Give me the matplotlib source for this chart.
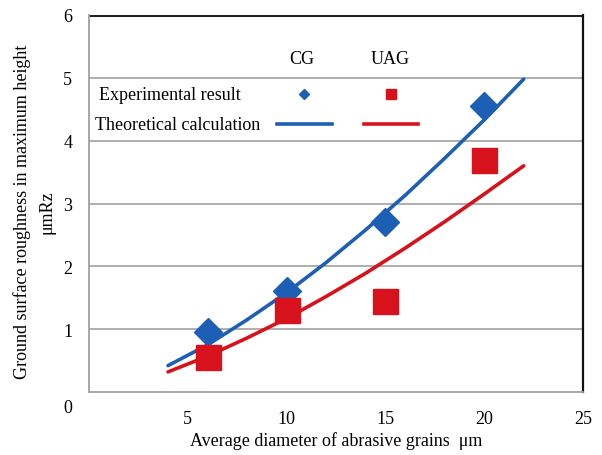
import matplotlib
matplotlib.use("Agg")
import matplotlib.pyplot as plt
from matplotlib.lines import Line2D
from matplotlib.transforms import ScaledTranslation

plt.rcParams['font.family'] = ['Liberation Serif', 'DejaVu Serif']

# Experimental results
grain_x = [6, 10, 15, 20]
cg_exp = [0.95, 1.60, 2.70, 4.55]
uag_exp = [0.55, 1.30, 1.45, 3.70]

# Theoretical calculation curves
curve_x = [4, 6, 8, 10, 12, 14, 16, 18, 20, 22]
cg_theory = [0.42, 0.75, 1.15, 1.58, 2.06, 2.58, 3.13, 3.72, 4.33, 4.98]
uag_theory = [0.32, 0.57, 0.86, 1.17, 1.52, 1.89, 2.29, 2.71, 3.15, 3.60]

xticks = [5, 10, 15, 20, 25]
yticks = [0, 1, 2, 3, 4, 5, 6]

blue = '#1d5fb4'
red = '#d8121c'

fig = plt.figure(figsize=(6.02, 4.56), dpi=100)
ax = fig.add_axes([89/602, 1-393/456, (583-89)/602, (393-16)/456])

ax.set_xlim(0, 25)
ax.set_ylim(0, 6)
ax.set_xticks(xticks)
ax.set_yticks(yticks)
ax.tick_params(length=0, labelsize=13, pad=12)
ax.tick_params(axis='x', pad=13)

# the "0" label sits lower, at the corner
lab0 = ax.get_yticklabels()[0]
lab0.set_transform(lab0.get_transform() + ScaledTranslation(0, -14/100, fig.dpi_scale_trans))

for y in yticks[1:-1]:
    ax.axhline(y, color='#a8a8a8', lw=1.3, zorder=0)
ax.axhline(6, color='#222222', lw=2.2, zorder=1)

ax.spines['left'].set_color('#a0a0a0')
ax.spines['left'].set_linewidth(1.3)
ax.spines['bottom'].set_color('#a0a0a0')
ax.spines['bottom'].set_linewidth(1.3)
ax.spines['right'].set_color('#111111')
ax.spines['right'].set_linewidth(1.6)
ax.spines['top'].set_visible(False)

ax.plot(curve_x, cg_theory, color=blue, lw=2.6, zorder=3, solid_capstyle='round')
ax.plot(curve_x, uag_theory, color=red, lw=2.6, zorder=3, solid_capstyle='round')
ax.plot(grain_x, cg_exp, ls='none', marker='D', ms=14, color=blue, zorder=4)
ax.plot(grain_x, uag_exp, ls='none', marker='s', ms=18, color=red, zorder=4)

ax.set_xlabel('Average diameter of abrasive grains  μm', fontsize=13)
ax.xaxis.set_label_coords(0.5, -(441 - 393) / (393 - 16))
ax.xaxis.label.set_va('center')
ax.set_ylabel('Ground surface roughness in maximum height\nμmRz', fontsize=13,
              linespacing=1.55)
ax.yaxis.set_label_coords(-(89 - 34) / (583 - 89), (393 - 212) / (393 - 16))
ax.yaxis.label.set_va('center')

# Legend (manual, as in original)
def fx(px):
    return (px - 89) / (583 - 89)

def fy(py):
    return (393 - py) / (393 - 16)

ax.text(fx(302), fy(60), 'CG', transform=ax.transAxes, ha='center', va='center', fontsize=13)
ax.text(fx(390), fy(60), 'UAG', transform=ax.transAxes, ha='center', va='center', fontsize=13)
ax.text(fx(99), fy(95), 'Experimental result', transform=ax.transAxes, ha='left', va='center', fontsize=13)
ax.text(fx(95), fy(125), 'Theoretical calculation', transform=ax.transAxes, ha='left', va='center', fontsize=13)
ax.add_line(Line2D([fx(304)], [fy(95)], transform=ax.transAxes, marker='D', ms=5, color=blue, ls='none'))
ax.add_line(Line2D([fx(391)], [fy(95)], transform=ax.transAxes, marker='s', ms=7, color=red, ls='none'))
ax.add_line(Line2D([fx(277), fx(332)], [fy(125), fy(125)], transform=ax.transAxes, color=blue, lw=2.6))
ax.add_line(Line2D([fx(364), fx(418)], [fy(125), fy(125)], transform=ax.transAxes, color=red, lw=2.6))

fig.savefig('out.png', dpi=100)
